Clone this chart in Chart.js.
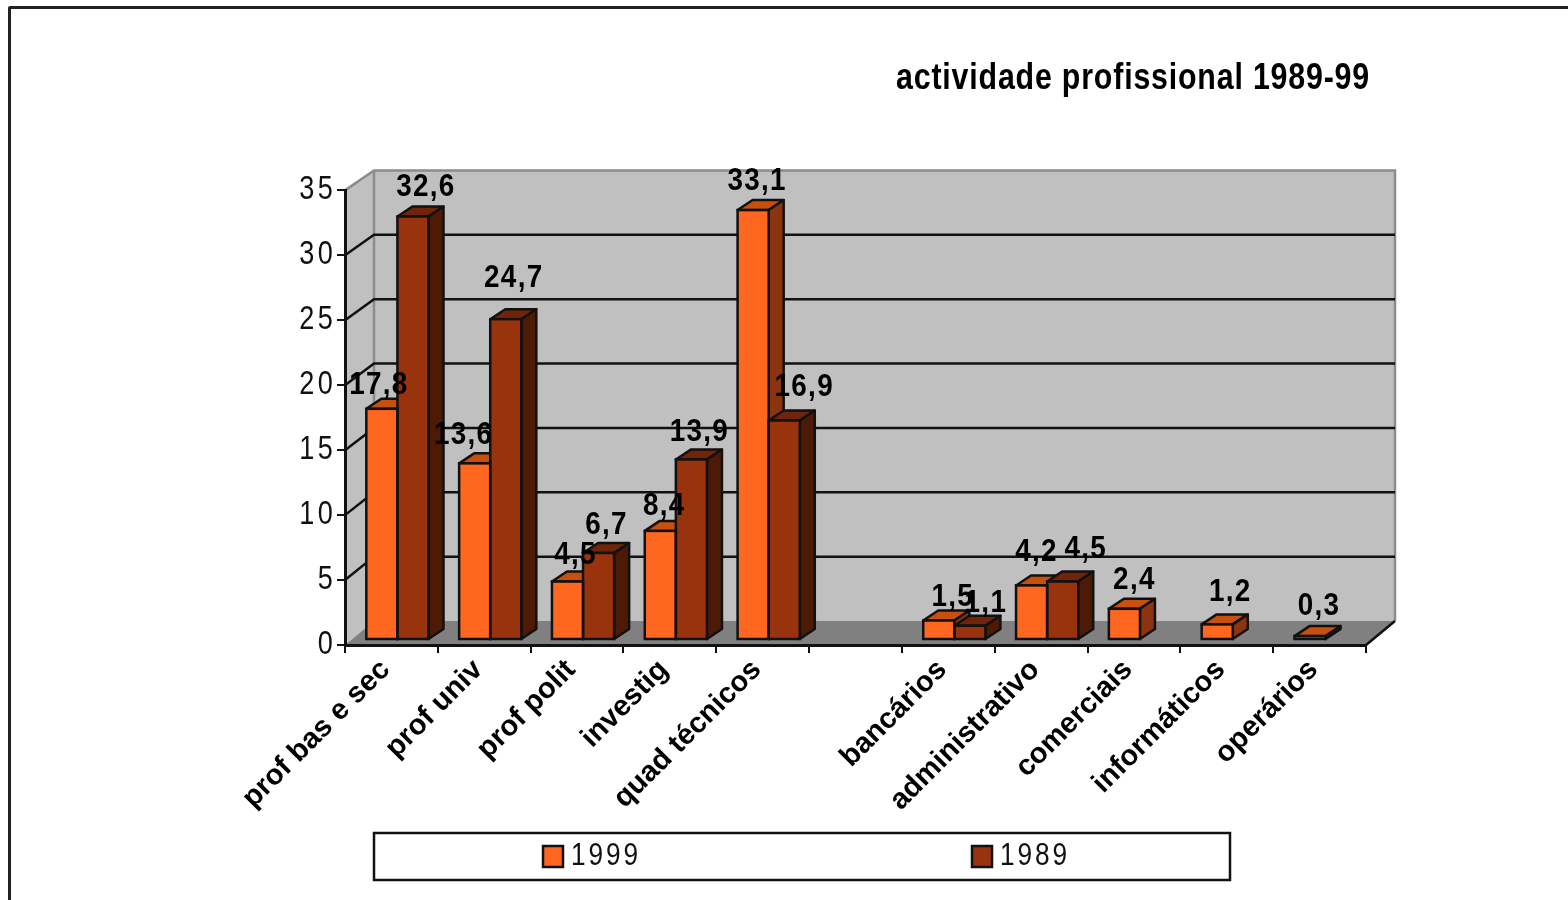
<!DOCTYPE html>
<html>
<head>
<meta charset="utf-8">
<title>actividade profissional 1989-99</title>
<style>
  html, body { margin: 0; padding: 0; background: #fff; overflow: hidden; }
  #frame { position: absolute; left: 8px; top: 6px; width: 1700px; height: 1000px; border: 3px solid #222; border-radius: 2px; }
  #wrap { position: absolute; left: 0; top: 0; width: 1568px; height: 900px; }
</style>
</head>
<body>
<div id="frame"></div>
<div id="wrap"><canvas id="chart" width="1568" height="900"></canvas></div>
<script src="https://cdn.jsdelivr.net/npm/chart.js@4"></script>
<script>
var categories = ["prof bas e sec", "prof univ", "prof polit", "investig", "quad técnicos", "", "bancários", "administrativo", "comerciais", "informáticos", "operários"];
var values1999 = [17.8, 13.6, 4.5, 8.4, 33.1, null, 1.5, 4.2, 2.4, 1.2, 0.3];
var values1989 = [32.6, 24.7, 6.7, 13.9, 16.9, null, 1.1, 4.5, null, null, null];

var yMax = 35;
var yStep = 5;

// colours: front, top, side
var faces = [
  { front: "#ff6620", top: "#c8500f", side: "#8a3510" },
  { front: "#99330d", top: "#70250a", side: "#4c1a05" }
];

// the labels in the picture do not sit regularly over the bars
var labelNudge = [
  [[-3, -15], [-11, -19], [8, -18], [4, -16], [4, -20], null, [14, -15], [5, -24], [10, -20], [13, -23], [9, -21]],
  [[13, -21], [8, -32], [8, -19], [8, -18], [20, -24], null, [16, -14], [23, -24], null, null, null]
];

var barShift = { x: 6, y: -5 };
var barDepth = { x: 15, y: -10 };
var wallDepth = { x: 29, bottom: -24, top: -20 };
var sans = "'Liberation Sans'";
var squeeze = 0.82;
var labelSqueeze = 0.87;
var edge = "#111";

function backY(chart, v) {
  var ty = chart.scales.y.getPixelForValue(v);
  return ty + wallDepth.bottom + (wallDepth.top - wallDepth.bottom) * v / yMax;
}

// squeeze horizontally around x, no narrow font is installed
function squeezeAt(c, x, k) {
  c.translate(x, 0);
  c.scale(k, 1);
  c.translate(-x, 0);
}

// the original text is narrow and tracked out, chart.js has no option for that
function condensed(chart, box, method, px, anchor) {
  var orig = box[method];
  box[method] = function(arg) {
    var c = chart.ctx;
    c.save();
    squeezeAt(c, anchor(), squeeze);
    c.letterSpacing = px;
    orig.call(box, arg);
    c.letterSpacing = "0px";
    c.restore();
  };
}

var walls = {
  id: "walls",
  beforeDraw: function(chart) {
    var c = chart.ctx, a = chart.chartArea, y = chart.scales.y;
    var dx = wallDepth.x;
    var backTop = backY(chart, yMax), backBottom = backY(chart, 0);
    c.save();
    c.fillStyle = "#c0c0c0";
    c.fillRect(a.left + dx, backTop, a.right - a.left, backBottom - backTop);
    c.beginPath();
    c.moveTo(a.left, a.top);
    c.lineTo(a.left + dx, backTop);
    c.lineTo(a.left + dx, backBottom);
    c.lineTo(a.left, a.bottom);
    c.closePath();
    c.fill();
    c.fillStyle = "#808080";
    c.beginPath();
    c.moveTo(a.left, a.bottom);
    c.lineTo(a.left + dx, backBottom);
    c.lineTo(a.right + dx, backBottom);
    c.lineTo(a.right, a.bottom);
    c.closePath();
    c.fill();

    c.lineWidth = 2.5;
    c.strokeStyle = "#8c8c8c";
    c.beginPath();
    c.moveTo(a.left, a.top);
    c.lineTo(a.left + dx, backTop);
    c.lineTo(a.right + dx, backTop);
    c.lineTo(a.right + dx, backBottom);
    c.moveTo(a.left + dx, backTop);
    c.lineTo(a.left + dx, backBottom);
    c.stroke();

    c.strokeStyle = edge;
    c.beginPath();
    for (var v = yStep; v < yMax; v += yStep) {
      var by = backY(chart, v);
      c.moveTo(a.left, y.getPixelForValue(v));
      c.lineTo(a.left + dx, by);
      c.lineTo(a.right + dx, by);
    }
    c.moveTo(a.right, a.bottom);
    c.lineTo(a.right + dx, backBottom);
    c.stroke();
    c.restore();
  }
};

var bars3d = {
  id: "bars3d",
  afterLayout: function(chart) {
    chart.titleBlock.left += 4;
    chart.titleBlock.right += 4;
    if (!chart.$condensed) {
      condensed(chart, chart.titleBlock, "draw", "1px", function() { return chart.titleBlock.right; });
      condensed(chart, chart.scales.y, "drawLabels", "4px", function() { return chart.chartArea.left - 9; });
      chart.$condensed = true;
    }
  },
  beforeDatasetsDraw: function(chart) {
    var c = chart.ctx;
    c.save();
    c.lineWidth = 2.5;
    c.strokeStyle = edge;
    c.lineJoin = "round";
    chart.data.datasets.forEach(function(ds, i) {
      chart.getDatasetMeta(i).data.forEach(function(el, j) {
        if (ds.data[j] === null) return;
        var l = el.x - el.width / 2 + barShift.x;
        var r = el.x + el.width / 2 + barShift.x;
        var t = el.y + barShift.y;
        var b = el.base + barShift.y;
        c.fillStyle = faces[i].top;
        c.beginPath();
        c.moveTo(l, t);
        c.lineTo(l + barDepth.x, t + barDepth.y);
        c.lineTo(r + barDepth.x, t + barDepth.y);
        c.lineTo(r, t);
        c.closePath();
        c.fill();
        c.stroke();
        c.fillStyle = faces[i].side;
        c.beginPath();
        c.moveTo(r, t);
        c.lineTo(r + barDepth.x, t + barDepth.y);
        c.lineTo(r + barDepth.x, b + barDepth.y);
        c.lineTo(r, b);
        c.closePath();
        c.fill();
        c.stroke();
      });
    });
    c.restore();
    // the fronts stand a little behind the axis plane
    c.save();
    c.translate(barShift.x, barShift.y);
  },
  afterDatasetsDraw: function(chart) {
    var c = chart.ctx;
    // outline on the edge of the front, a built in border would fill the 0,3 bar
    c.lineWidth = 2.5;
    c.strokeStyle = edge;
    chart.data.datasets.forEach(function(ds, i) {
      chart.getDatasetMeta(i).data.forEach(function(el, j) {
        if (ds.data[j] === null) return;
        c.strokeRect(el.x - el.width / 2, el.y, el.width, el.base - el.y);
      });
    });
    c.restore();
    chart.data.datasets.forEach(function(ds, i) {
      chart.getDatasetMeta(i).data.forEach(function(el, j) {
        if (ds.data[j] === null) return;
        var n = labelNudge[i][j];
        var txt = String(ds.data[j]).replace(".", ",");
        var x = el.x + barShift.x + n[0];
        c.save();
        squeezeAt(c, x, labelSqueeze);
        c.font = "bold 32px " + sans;
        c.letterSpacing = "1.5px";
        c.fillStyle = "#000";
        c.textAlign = "center";
        c.textBaseline = "alphabetic";
        c.fillText(txt, x, el.y + barShift.y + n[1]);
        c.restore();
      });
    });
  },
  afterDraw: function(chart) {
    // legend box is wider than the built in legend can be
    var c = chart.ctx, a = chart.chartArea;
    var boxLeft = a.left + wallDepth.x, boxTop = a.bottom + 188;
    var swatchX = [543, 972];
    c.save();
    c.fillStyle = "#fff";
    c.strokeStyle = edge;
    c.lineWidth = 2.5;
    c.fillRect(boxLeft, boxTop, 856, 47);
    c.strokeRect(boxLeft, boxTop, 856, 47);
    chart.data.datasets.forEach(function(ds, i) {
      c.fillStyle = faces[i].front;
      c.fillRect(swatchX[i], boxTop + 13, 20, 21);
      c.strokeRect(swatchX[i], boxTop + 13, 20, 21);
      var tx = swatchX[i] + 28;
      c.save();
      squeezeAt(c, tx, squeeze);
      c.font = "32px " + sans;
      c.letterSpacing = "3.5px";
      c.textBaseline = "alphabetic";
      c.fillStyle = edge;
      c.fillText(ds.label, tx, boxTop + 32);
      c.restore();
    });
    c.restore();
  }
};

var ctx = document.getElementById("chart").getContext("2d");
var chart = new Chart(ctx, {
  type: "bar",
  data: {
    labels: categories,
    datasets: [
      { label: "1999", data: values1999, backgroundColor: faces[0].front, borderWidth: 0, clip: false },
      { label: "1989", data: values1989, backgroundColor: faces[1].front, borderWidth: 0, clip: false }
    ]
  },
  plugins: [walls, bars3d],
  options: {
    responsive: false,
    animation: false,
    events: [],
    categoryPercentage: 0.67,
    barPercentage: 1,
    layout: { padding: { left: 40, right: 202, top: 0, bottom: 0 } },
    plugins: {
      legend: { display: false },
      tooltip: { enabled: false },
      title: {
        display: true,
        text: "actividade profissional 1989-99",
        align: "end",
        color: "#000",
        font: { family: sans, size: 37, weight: "bold" },
        padding: { top: 57, bottom: 89 }
      }
    },
    scales: {
      x: {
        afterFit: function(scale) { scale.height = 255; },
        border: { color: edge, width: 3 },
        grid: { color: edge, lineWidth: 2, drawOnChartArea: false, tickLength: 8 },
        ticks: {
          autoSkip: false,
          minRotation: 45,
          maxRotation: 45,
          padding: 0,
          labelOffset: -6,
          color: "#000",
          font: { family: sans, size: 29, weight: "bold" }
        }
      },
      y: {
        min: 0,
        max: yMax,
        afterFit: function(scale) { scale.width = 305; },
        border: { color: edge, width: 3 },
        grid: { color: edge, lineWidth: 2, drawOnChartArea: false, tickLength: 8 },
        ticks: {
          stepSize: yStep,
          padding: 1,
          color: edge,
          font: { family: sans, size: 33 }
        }
      }
    }
  }
});
</script>
</body>
</html>
